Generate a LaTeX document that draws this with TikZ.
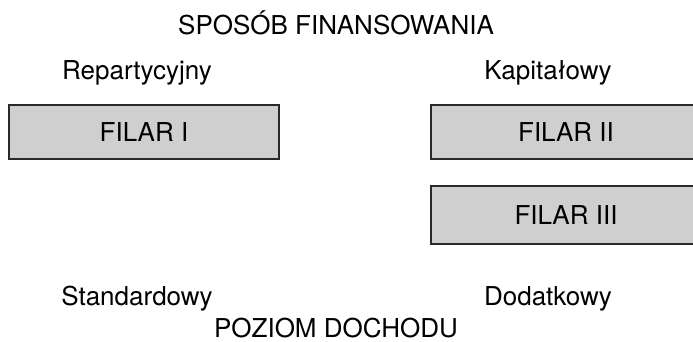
\documentclass[tikz,border=0pt]{standalone}
\usepackage{fontspec}
\setmainfont{TeX Gyre Heros}
\definecolor{boxfill}{HTML}{CFCFCF}
\definecolor{boxline}{HTML}{2A2A2A}
\begin{document}
\begin{tikzpicture}[x=1pt,y=-1pt,
  lbl/.style={anchor=base,inner sep=0pt,font=\fontsize{26}{30}\selectfont},
  pillar/.style={draw=boxline,fill=boxfill,line width=1.2pt,inner sep=0pt,
    font=\fontsize{26}{30}\selectfont,minimum height=54pt}]
\useasboundingbox (0,0) rectangle (693,342);
\clip (0,0) rectangle (693,342);
\node[lbl] (title) at (336,35) {SPOSÓB FINANSOWANIA};
\node[lbl] (rep) at (137,80) {Repartycyjny};
\node[lbl] (kap) at (548,80) {Kapitałowy};
\node[pillar,minimum width=270pt] (f1) at (144,132) {FILAR I};
\node[pillar,minimum width=270pt] (f2) at (566,132) {FILAR II};
\node[pillar,minimum width=270pt,minimum height=58pt] (f3) at (566,215) {FILAR III};
\node[lbl] (std) at (137,305) {Standardowy};
\node[lbl] (dod) at (548,305) {Dodatkowy};
\node[lbl] (poz) at (336,337) {POZIOM DOCHODU};
\end{tikzpicture}
\end{document}
